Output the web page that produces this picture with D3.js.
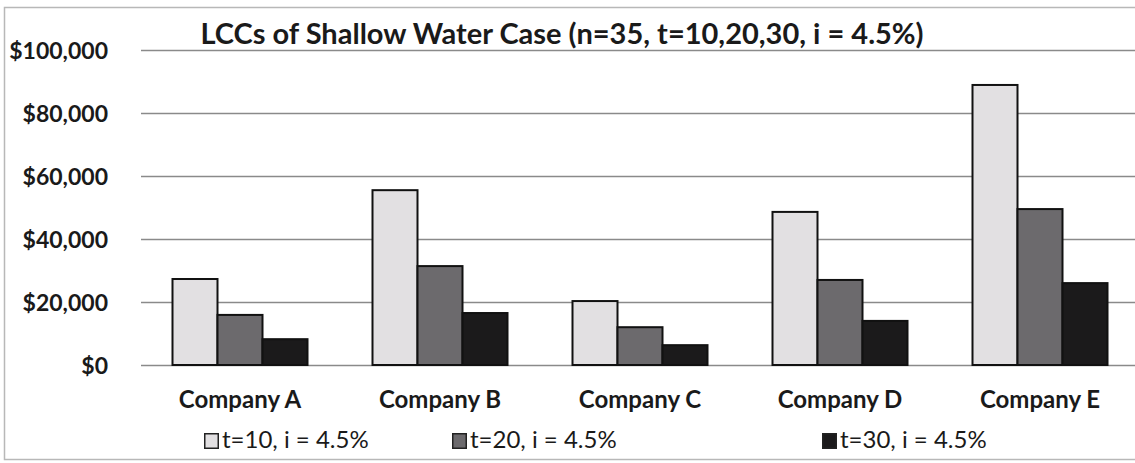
<!DOCTYPE html>
<html>
<head>
<meta charset="utf-8">
<script src="https://cdn.jsdelivr.net/npm/d3@7"></script>
<style>
  html, body { margin: 0; padding: 0; background: #ffffff; }
  svg { display: block; }
</style>
</head>
<body>
<svg id="chart" width="1135" height="463"></svg>
<script>
const categories = ["Company A", "Company B", "Company C", "Company D", "Company E"];
const seriesNames = ["t=10, i = 4.5%", "t=20, i = 4.5%", "t=30, i = 4.5%"];
const t10 = [27300, 55500, 20300, 48600, 88900];
const t20 = [15900, 31400, 12000, 27000, 49500];
const t30 = [8200, 16500, 6300, 14000, 26000];
const yTicks = [0, 20000, 40000, 60000, 80000, 100000];
const title = "LCCs of Shallow Water Case (n=35, t=10,20,30, i = 4.5%)";

const seriesValues = [t10, t20, t30];
const colors = ["#e2e0e2", "#6c6a6d", "#1b1a1b"];

const svg = d3.select("#chart");
const W = 1135, H = 463;
const font = "Lato, 'Open Sans', sans-serif";

// outer border
svg.append("rect").attr("x", 4.5).attr("y", 7.5).attr("width", W + 10).attr("height", 452)
  .attr("fill", "#fff").attr("stroke", "#b8b8b8").attr("stroke-width", 1.5);

const x0 = d3.scaleBand().domain(categories).range([140, 1140]).paddingInner(0.325).paddingOuter(0.1625);
const x1 = d3.scaleBand().domain(seriesNames).range([0, x0.bandwidth()]);
const y = d3.scaleLinear().domain([0, 100000]).range([365, 50]);

// gridlines
const grid = d3.axisLeft(y).tickValues(yTicks).tickSize(-(W - 141)).tickFormat("");
const gg = svg.append("g").attr("transform", "translate(141,0)").call(grid);
gg.select(".domain").remove();
gg.selectAll(".tick line").attr("stroke", "#8a8a8a").attr("stroke-width", 1.5);

// y labels
const ya = d3.axisLeft(y).tickValues(yTicks).tickSize(0).tickPadding(0)
  .tickFormat(d => "$" + d3.format(",")(d));
const yg = svg.append("g").attr("transform", "translate(108,0)").call(ya);
yg.select(".domain").remove();
yg.selectAll("text").attr("font-family", font).attr("font-weight", "bold")
  .attr("font-size", 23).attr("fill", "#1a1a1a").attr("dy", "0.36em");

// bars
const groups = svg.append("g").selectAll("g").data(categories).join("g")
  .attr("transform", d => `translate(${x0(d)},0)`);
groups.selectAll("rect").data((c, i) => seriesNames.map((s, j) => ({ s, v: seriesValues[j][i], j })))
  .join("rect")
  .attr("x", d => x1(d.s))
  .attr("width", x1.bandwidth())
  .attr("y", d => y(d.v))
  .attr("height", d => y(0) - y(d.v))
  .attr("fill", d => colors[d.j])
  .attr("stroke", "#111")
  .attr("stroke-width", 2);

// category labels
const xa = d3.axisBottom(x0).tickSize(0).tickPadding(0);
const xg = svg.append("g").attr("transform", "translate(0,408)").call(xa);
xg.select(".domain").remove();
xg.selectAll("text").attr("font-family", font).attr("font-weight", "bold")
  .attr("font-size", 24).attr("fill", "#1a1a1a").attr("dy", "0");

// title
svg.append("text").attr("x", 562).attr("y", 44).attr("text-anchor", "middle")
  .attr("font-family", font).attr("font-weight", "bold").attr("font-size", 29)
  .attr("fill", "#1a1a1a").text(title);

// legend
const legX = [204, 452, 822];
const leg = svg.append("g").selectAll("g").data(seriesNames).join("g")
  .attr("transform", (d, i) => `translate(${legX[i]},433)`);
leg.append("rect").attr("x", 0.75).attr("y", 0.75).attr("width", 13.5).attr("height", 14.5)
  .attr("fill", (d, i) => colors[i]).attr("stroke", "#222").attr("stroke-width", 1.5);
leg.append("text").attr("x", 18).attr("y", 15).attr("font-family", font)
  .attr("font-size", 24).attr("fill", "#1a1a1a").text(d => d);
</script>
</body>
</html>
